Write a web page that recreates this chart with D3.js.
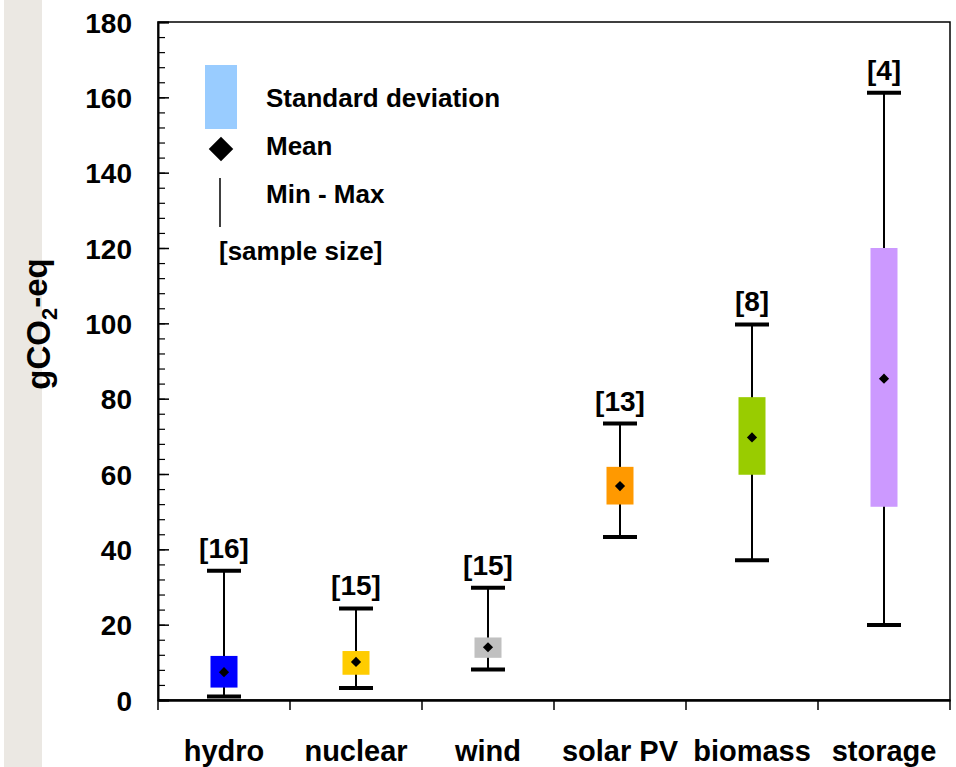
<!DOCTYPE html>
<html>
<head>
<meta charset="utf-8">
<script src="https://cdn.jsdelivr.net/npm/d3@7"></script>
<style>
  html, body { margin: 0; padding: 0; background: #ffffff; }
  svg { display: block; }
  text { font-family: Arial, "Liberation Sans", Helvetica, sans-serif; font-weight: bold; fill: #000; }
</style>
</head>
<body>
<svg id="chart" width="956" height="767"></svg>
<script>
// Life-cycle emissions per technology (gCO2-eq)
const categories = ["hydro", "nuclear", "wind", "solar PV", "biomass", "storage"];
const minValues  = [0.9, 3.2, 8.1, 43.3, 37.1, 19.9];
const maxValues  = [34.3, 24.3, 29.8, 73.4, 99.7, 161.2];
const sdLow      = [3.3, 6.7, 11.2, 51.9, 59.8, 51.3];
const sdHigh     = [11.7, 13.0, 16.6, 61.9, 80.4, 120.0];
const meanValues = [7.4, 10.1, 14.0, 56.8, 69.7, 85.3];
const sampleSize = [16, 15, 15, 13, 8, 4];
const colors     = ["#0000ff", "#ffcc00", "#c0c0c0", "#ff9900", "#99cc00", "#cc99ff"];
const yMajorTicks = [0, 20, 40, 60, 80, 100, 120, 140, 160, 180];
const legendLabels = ["Standard deviation", "Mean", "Min - Max", "[sample size]"];

const svg = d3.select("#chart");
const plot = { left: 158, right: 950, top: 22, bottom: 700 };

// soft grey strip down the left edge
svg.append("rect").attr("x", 4).attr("y", 0).attr("width", 38).attr("height", 767)
  .attr("fill", "#ebe8e3");

const x = d3.scaleBand().domain(categories).range([plot.left, plot.right]).padding(0);
const y = d3.scaleLinear().domain([0, 180]).range([plot.bottom, plot.top]);

const rows = categories.map((c, i) => ({
  cat: c, min: minValues[i], max: maxValues[i], lo: sdLow[i], hi: sdHigh[i],
  mean: meanValues[i], n: sampleSize[i], color: colors[i]
}));

// frame
svg.append("rect")
  .attr("x", plot.left).attr("y", plot.top)
  .attr("width", plot.right - plot.left).attr("height", plot.bottom - plot.top)
  .attr("fill", "none").attr("stroke", "#000").attr("stroke-width", 1.5);

// minor y ticks every 4 units
const minorAxis = d3.axisLeft(y).tickValues(d3.range(0, 181, 4)).tickSize(-7).tickFormat("");
svg.append("g").attr("transform", `translate(${plot.left},0)`).call(minorAxis)
  .call(g => g.select(".domain").remove())
  .call(g => g.selectAll("line").attr("stroke-width", 1.2));

// major y ticks with labels
const majorAxis = d3.axisLeft(y).tickValues(yMajorTicks).tickSize(-11).tickPadding(26);
svg.append("g").attr("transform", `translate(${plot.left},0)`).call(majorAxis)
  .call(g => g.select(".domain").attr("stroke-width", 2))
  .call(g => g.selectAll("line").attr("stroke-width", 1.5))
  .call(g => g.selectAll("text").style("font-size", "28px").attr("dy", "0.36em")
    .style("font-family", "Arial, 'Liberation Sans', sans-serif").style("font-weight", "bold"));

// category axis
const xAxis = d3.axisBottom(x).tickSize(0).tickPadding(40);
svg.append("g").attr("transform", `translate(0,${plot.bottom})`).call(xAxis)
  .call(g => g.select(".domain").attr("stroke-width", 2.5))
  .call(g => g.selectAll("text").style("font-size", "29px")
    .style("font-family", "Arial, 'Liberation Sans', sans-serif").style("font-weight", "bold"));

// category separators below the axis
const edges = categories.map(c => x(c)).concat([x.range()[1]]);
svg.append("g").selectAll("line").data(edges).join("line")
  .attr("x1", d => d).attr("x2", d => d)
  .attr("y1", plot.bottom).attr("y2", plot.bottom + 10)
  .attr("stroke", "#000").attr("stroke-width", 1.5);

const boxW = 27, capW = 34;
const g = svg.append("g").selectAll("g").data(rows).join("g")
  .attr("transform", d => `translate(${x(d.cat) + x.bandwidth() / 2},0)`);

// min-max whisker
g.append("line").attr("x1", 0).attr("x2", 0)
  .attr("y1", d => y(d.min)).attr("y2", d => y(d.max))
  .attr("stroke", "#000").attr("stroke-width", 2);
g.append("line").attr("x1", -capW / 2).attr("x2", capW / 2)
  .attr("y1", d => y(d.max)).attr("y2", d => y(d.max))
  .attr("stroke", "#000").attr("stroke-width", 4);
g.append("line").attr("x1", -capW / 2).attr("x2", capW / 2)
  .attr("y1", d => y(d.min)).attr("y2", d => y(d.min))
  .attr("stroke", "#000").attr("stroke-width", 4);

// standard deviation box
g.append("rect").attr("x", -boxW / 2).attr("width", boxW)
  .attr("y", d => y(d.hi)).attr("height", d => y(d.lo) - y(d.hi))
  .attr("fill", d => d.color);

// mean marker
const diamond = d3.symbol().type(d3.symbolSquare).size(52);
g.append("path").attr("d", diamond)
  .attr("transform", d => `translate(0,${y(d.mean)}) rotate(45)`)
  .attr("fill", "#000");

// sample size labels
g.append("text").attr("x", 0).attr("y", d => y(d.max) - 13)
  .attr("text-anchor", "middle").style("font-size", "28px")
  .text(d => `[${d.n}]`);

// legend
const lg = svg.append("g");
lg.append("rect").attr("x", 205).attr("y", 65).attr("width", 32).attr("height", 64).attr("fill", "#99ccff");
lg.append("path").attr("d", d3.symbol().type(d3.symbolSquare).size(300))
  .attr("transform", "translate(221,149) rotate(45)").attr("fill", "#000");
lg.append("line").attr("x1", 220).attr("x2", 220).attr("y1", 178).attr("y2", 227)
  .attr("stroke", "#000").attr("stroke-width", 1.5);
const legendPos = [[266, 107], [266, 155], [266, 203], [219, 260]];
lg.selectAll("text").data(legendLabels).join("text")
  .attr("x", (d, i) => legendPos[i][0]).attr("y", (d, i) => legendPos[i][1])
  .style("font-size", "26px").text(d => d);

// y axis title with subscript
const title = svg.append("text")
  .attr("transform", "translate(50,324) rotate(-90)")
  .attr("text-anchor", "middle").style("font-size", "33px");
title.append("tspan").text("gCO");
title.append("tspan").text("2").attr("dy", "0.3em").style("font-size", "22px");
title.append("tspan").text("-eq").attr("dy", "-0.3em");
</script>
</body>
</html>
